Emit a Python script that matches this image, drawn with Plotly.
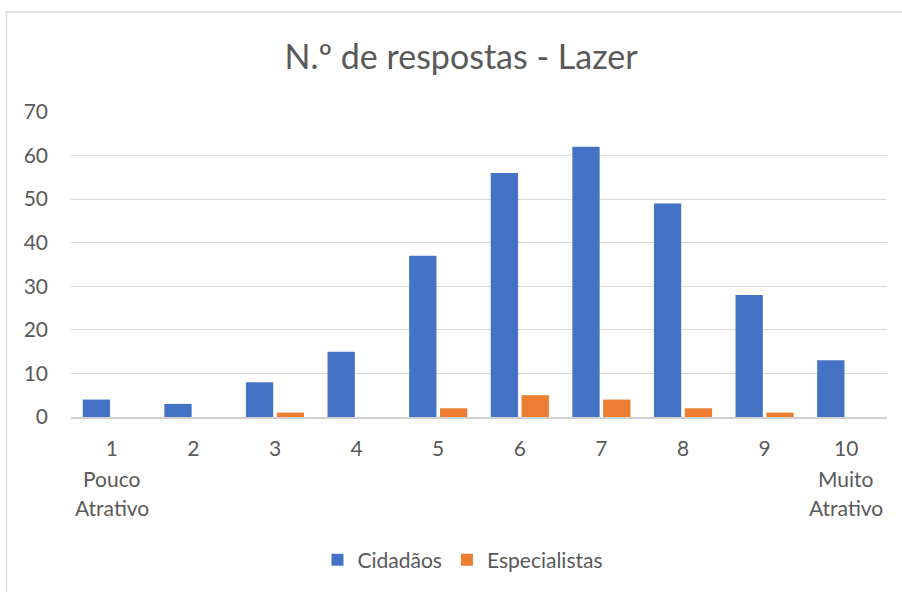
import plotly.graph_objects as go

# Survey data: number of responses per attractiveness score (Lazer)
categories = ["1", "2", "3", "4", "5", "6", "7", "8", "9", "10"]
cidadaos = [4, 3, 8, 15, 37, 56, 62, 49, 28, 13]
especialistas = [0, 0, 1, 0, 2, 5, 4, 2, 1, 0]
y_ticks = [0, 10, 20, 30, 40, 50, 60, 70]

# Descriptor text drawn under the first and last score
end_labels = {"1": ["Pouco", "Atrativo"], "10": ["Muito", "Atrativo"]}

FONT = "Lato"
TEXT = "#595959"
BLUE = "#4472C4"
ORANGE = "#ED7D31"
GRID = "#D9D9D9"
SIZE = 21

fig = go.Figure()
fig.add_trace(go.Bar(x=categories, y=cidadaos, name="Cidadãos",
                     marker=dict(color=BLUE, line=dict(width=0))))
fig.add_trace(go.Bar(x=categories, y=especialistas, name="Especialistas",
                     marker=dict(color=ORANGE, line=dict(width=0))))

# Plot area in pixels: left 71, right 887, top 112, bottom 417
L, R, T, B = 71, 887, 112, 417
W, H = 902, 592


def px_x(px):
    return (px - L) / (R - L)


def px_y(py):
    return (B - py) / (B - T)


annotations = []
for cat, lines in end_labels.items():
    for i, word in enumerate(lines):
        annotations.append(dict(
            x=categories.index(cat), xref="x", y=px_y(478 + 29.5 * i),
            yref="paper", text=word, showarrow=False,
            xanchor="center", yanchor="middle",
            font=dict(family=FONT, size=SIZE, color=TEXT),
        ))

fig.update_layout(
    width=W, height=H,
    margin=dict(l=L, r=W - R, t=T, b=H - B),
    paper_bgcolor="white", plot_bgcolor="white",
    barmode="group", bargap=0.244, bargroupgap=0.115,
    title=dict(text="N.º de respostas - Lazer", x=461 / W, xanchor="center",
               y=1 - 57 / H, yanchor="middle",
               font=dict(family=FONT, size=34, color=TEXT)),
    font=dict(family=FONT, size=SIZE, color=TEXT),
    xaxis=dict(type="category", range=[-0.5, len(categories) - 0.5],
               showgrid=False, showline=True,
               linecolor="#D0D0D0", linewidth=1.5, ticks="",
               ticklabelstandoff=12,
               tickfont=dict(family=FONT, size=SIZE, color=TEXT)),
    yaxis=dict(range=[0, 70], tickvals=y_ticks, showgrid=True,
               gridcolor=GRID, gridwidth=1, zeroline=False, showline=False,
               ticks="", ticklabelstandoff=22,
               tickfont=dict(family=FONT, size=SIZE, color=TEXT)),
    legend=dict(orientation="h", x=px_x(463), xanchor="center",
                y=px_y(560), yanchor="middle",
                font=dict(family=FONT, size=SIZE, color=TEXT),
                itemwidth=30, tracegroupgap=0),
    annotations=annotations,
    shapes=[dict(type="rect", xref="paper", yref="paper",
                 x0=px_x(6.5), x1=px_x(910), y0=px_y(600), y1=px_y(12),
                 line=dict(color=GRID, width=1.5), fillcolor="rgba(0,0,0,0)",
                 layer="below")],
)

fig.write_html("out.html")
